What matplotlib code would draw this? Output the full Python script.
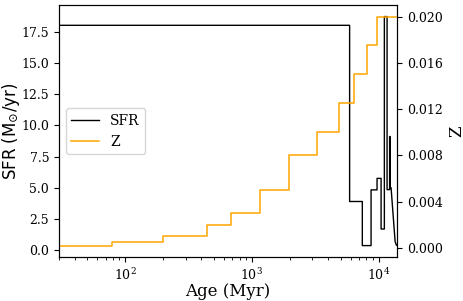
import matplotlib
matplotlib.use("Agg")
import matplotlib.pyplot as plt
import numpy as np

plt.rcParams['font.family'] = ['DejaVu Serif']
plt.rcParams['mathtext.fontset'] = 'dejavuserif'

# SFR history (age in Myr, SFR in Msun/yr), drawn as a polyline
sfr_age = [30, 5900, 5900, 7430, 7430, 8710, 8710, 9710, 9710, 10450, 10450,
           11090, 11090, 11650, 11650, 12200, 12200, 12300, 12300, 12530,
           13480, 13810, 14000]
sfr_val = [18.0, 18.0, 3.9, 3.9, 0.37, 0.37, 4.83, 4.83, 5.75, 5.75, 1.7,
           1.7, 18.7, 18.7, 4.85, 4.85, 9.1, 9.1, 5.0, 5.0,
           0.7, 0.4, 0.4]

# Metallicity steps (age edges in Myr, Z)
z_age = [30, 79, 197, 443, 684, 1167, 1960, 3236, 4867, 6425, 8036, 9710, 14000]
z_val = [0.0002, 0.0005, 0.001, 0.002, 0.003, 0.005, 0.008, 0.010, 0.0125,
         0.015, 0.0175, 0.020, 0.020]

left_ticks = [0.0, 2.5, 5.0, 7.5, 10.0, 12.5, 15.0, 17.5]
right_ticks = [0.000, 0.004, 0.008, 0.012, 0.016, 0.020]

fig = plt.figure(figsize=(4.64, 3.01), dpi=100)
ax = fig.add_axes([0.127, 0.146, 0.729, 0.837])
ax2 = ax.twinx()

l1, = ax.plot(sfr_age, sfr_val, color='black', lw=1.0, label='SFR')
l2, = ax2.plot(z_age, z_val, color='orange', lw=1.1, drawstyle='steps-post', label='Z')

ax.set_xscale('log')
ax.set_xlim(30, 14000)
ax.set_yticks(left_ticks)
ax.set_yticklabels([f"{t:.1f}" for t in left_ticks])
ax2.set_yticks(right_ticks)
ax2.set_yticklabels([f"{t:.3f}" for t in right_ticks])

ax.tick_params(labelsize=9)
ax2.tick_params(labelsize=9)

ax.set_xlabel('Age (Myr)', fontsize=12, labelpad=0)
ax.set_ylabel(r'SFR (M$_{\odot}$/yr)', fontsize=12, family='DejaVu Sans')
ax.yaxis.set_label_coords(-0.108, 0.5)
ax2.set_ylabel('Z', fontsize=12, labelpad=4)

ax.legend([l1, l2], ['SFR', 'Z'], loc='center left', fontsize=10)

fig.savefig('out.png', dpi=100)
